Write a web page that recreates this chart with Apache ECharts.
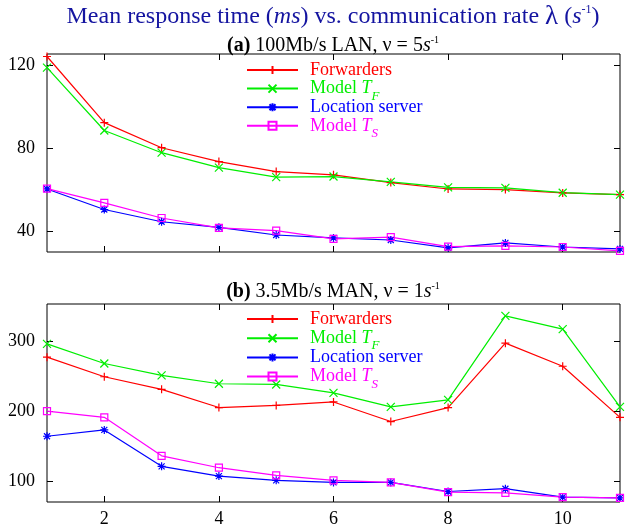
<!DOCTYPE html>
<html>
<head>
<meta charset="utf-8">
<script src="https://cdn.jsdelivr.net/npm/echarts@6/dist/echarts.min.js"></script>
<style>html,body{margin:0;padding:0;background:#fff}#c{width:625px;height:528px}</style>
</head>
<body>
<div id="c"></div>
<script>
// ---- data ----
const rates = [1, 2, 3, 4, 5, 6, 7, 8, 9, 10, 11];
const xTicks = [2, 4, 6, 8, 10];

// (a) 100Mb/s LAN
const lanForwarders = [124.3, 92.4, 80.3, 73.6, 68.8, 67.2, 63.5, 60.4, 60.1, 58.5, 57.7];
const lanModelTF    = [118.9, 88.6, 77.9, 70.7, 66.1, 66.4, 63.8, 61.2, 60.9, 58.6, 57.7];
const lanLocation   = [60.4, 50.5, 44.6, 41.9, 38.2, 36.8, 35.8, 32.0, 34.4, 32.4, 31.5];
const lanModelTS    = [60.6, 53.7, 46.4, 41.6, 40.3, 36.3, 37.2, 32.6, 33.0, 32.4, 30.5];
const lanYTicks = [40, 80, 120];

// (b) 3.5Mb/s MAN
const manForwarders = [277, 249, 231, 205, 208, 213, 185, 205, 297, 264, 191];
const manModelTF    = [296, 268, 251, 239, 238, 226, 206, 216, 336, 317, 206];
const manLocation   = [164, 173, 121, 107, 101, 98, 98, 85, 89, 77, 76];
const manModelTS    = [200, 191, 136, 119, 108, 101, 98, 84, 83, 77, 76];
const manYTicks = [100, 200, 300];

const seriesNames = ['Forwarders', 'Model TF', 'Location server', 'Model TS'];
const seriesColors = ['#ff0000', '#00ee00', '#0000ff', '#ff00ff'];

// ---- styling ----
const FONT = "'Liberation Serif','Times New Roman',serif";
const symPlus = 'path://M0,4L8,4M4,0L4,8';
const symCross = 'path://M0,0L8,8M0,8L8,0';
const symStar = 'path://M0,4L8,4M4,0L4,8M1,1L7,7M1,7L7,1';
const symbols = [symPlus, symCross, symStar, 'rect'];

function pairs(vals) { return rates.map((x, i) => [x, vals[i]]); }

function mkSeries(name, idx, vals, ax) {
  const c = seriesColors[idx];
  return {
    name: name, type: 'line', xAxisIndex: ax, yAxisIndex: ax,
    data: pairs(vals), symbol: symbols[idx], symbolSize: idx === 3 ? 7 : 8,
    showAllSymbol: true, animation: false, clip: false,
    lineStyle: { color: c, width: 1.2 },
    itemStyle: { color: idx === 3 ? 'rgba(255,255,255,0)' : c, borderColor: c, borderWidth: 1.2 },
    emphasis: { disabled: true }
  };
}

const grids = [
  { left: 47, right: 5, top: 54, height: 198 },
  { left: 47, right: 5, top: 304, height: 198 }
];

function xAx(grid, pos, labels) {
  return {
    type: 'value', gridIndex: grid, position: pos, min: 1, max: 11,
    axisLine: { show: false },
    axisTick: { show: true, inside: true, length: 6, customValues: xTicks, lineStyle: { color: '#000' } },
    axisLabel: { show: labels, customValues: xTicks, fontSize: 18, fontFamily: FONT, color: '#000', margin: 8 },
    splitLine: { show: false }
  };
}
function yAx(grid, pos, min, max, ticks, labels) {
  return {
    type: 'value', gridIndex: grid, position: pos, min: min, max: max,
    axisLine: { show: false },
    axisTick: { show: true, inside: true, length: 6, customValues: ticks, lineStyle: { color: '#000' } },
    axisLabel: { show: labels, customValues: ticks, fontSize: 18, fontFamily: FONT, color: '#000', margin: 12 },
    splitLine: { show: false }
  };
}

const legendRich = {
  n: { fontSize: 18, fontFamily: FONT, lineHeight: 18 },
  i: { fontSize: 18, fontFamily: FONT, fontStyle: 'italic', lineHeight: 18 },
  sub: { fontSize: 13, fontFamily: FONT, fontStyle: 'italic', lineHeight: 1, verticalAlign: 'bottom', padding: [0, 0, -5, 0] }
};
function legendFmt(name) {
  if (name === 'Model TF') return '{n|Model }{i|T}{sub|F}';
  if (name === 'Model TS') return '{n|Model }{i|T}{sub|S}';
  return '{n|' + name + '}{sub| }';
}
function mkLegend(top, gap) {
  return {
    orient: 'vertical', left: 246, top: top, itemWidth: 51, itemHeight: 10, itemGap: gap,
    padding: 0, selectedMode: false, formatter: legendFmt,
    textStyle: { fontSize: 18, fontFamily: FONT, lineHeight: 18, padding: [0, 0, 0, 7], rich: legendRich },
    data: seriesNames.map((n, i) => ({ name: n, textStyle: { color: seriesColors[i] } }))
  };
}

function richSet(size, color, supSize) {
  return {
    n: { fontSize: size, fontFamily: FONT, color: color, fontWeight: 'normal', lineHeight: size + 2 },
    b: { fontSize: size, fontFamily: FONT, color: color, fontWeight: 'bold', lineHeight: size + 2 },
    i: { fontSize: size, fontFamily: FONT, color: color, fontWeight: 'normal', fontStyle: 'italic', lineHeight: size + 2 },
    l: { fontSize: size + 3, fontFamily: FONT, color: color, fontWeight: 'normal', lineHeight: size + 2 },
    sup: { fontSize: supSize, fontFamily: FONT, color: color, fontWeight: 'normal', lineHeight: supSize + 2, verticalAlign: 'top' }
  };
}

const titleColor = '#1414a0';
const option = {
  backgroundColor: '#fff',
  animation: false,
  title: [
    {
      text: '{n|Mean response time (}{i|ms}{n|) vs. communication rate }{l|λ}{n| (}{i|s}{sup|-1}{n|)}',
      left: 333, top: 4, textAlign: 'center', padding: 0,
      textStyle: { fontWeight: 'normal', rich: richSet(24, titleColor, 12) }
    },
    {
      text: '{b|(a)}{n| 100Mb/s LAN, ν = 5}{i|s}{sup|-1}',
      left: 333, top: 35, textAlign: 'center', padding: 0,
      textStyle: { fontWeight: 'normal', rich: richSet(20, '#000', 10) }
    },
    {
      text: '{b|(b)}{n| 3.5Mb/s MAN, ν = 1}{i|s}{sup|-1}',
      left: 333, top: 281, textAlign: 'center', padding: 0,
      textStyle: { fontWeight: 'normal', rich: richSet(20, '#000', 10) }
    }
  ],
  grid: grids.map(g => Object.assign({ show: true, borderColor: '#000', borderWidth: 1, backgroundColor: 'transparent' }, g)),
  legend: [mkLegend(61, -4.4), mkLegend(310, -3.8)],
  xAxis: [xAx(0, 'bottom', false), xAx(0, 'top', false), xAx(1, 'bottom', true), xAx(1, 'top', false)],
  yAxis: [
    yAx(0, 'left', 30, 125.5, lanYTicks, true), yAx(0, 'right', 30, 125.5, lanYTicks, false),
    yAx(1, 'left', 70, 353, manYTicks, true), yAx(1, 'right', 70, 353, manYTicks, false)
  ],
  series: [
    mkSeries(seriesNames[0], 0, lanForwarders, 0),
    mkSeries(seriesNames[1], 1, lanModelTF, 0),
    mkSeries(seriesNames[2], 2, lanLocation, 0),
    mkSeries(seriesNames[3], 3, lanModelTS, 0),
    mkSeries(seriesNames[0], 0, manForwarders, 2),
    mkSeries(seriesNames[1], 1, manModelTF, 2),
    mkSeries(seriesNames[2], 2, manLocation, 2),
    mkSeries(seriesNames[3], 3, manModelTS, 2)
  ]
};
// empty series so the mirrored axes exist in their grids
option.series.push({ type: 'line', xAxisIndex: 1, yAxisIndex: 1, data: [], silent: true });
option.series.push({ type: 'line', xAxisIndex: 3, yAxisIndex: 3, data: [], silent: true });

const chart = echarts.init(document.getElementById('c'), null, { renderer: 'canvas' });
chart.setOption(option);
</script>
</body>
</html>
